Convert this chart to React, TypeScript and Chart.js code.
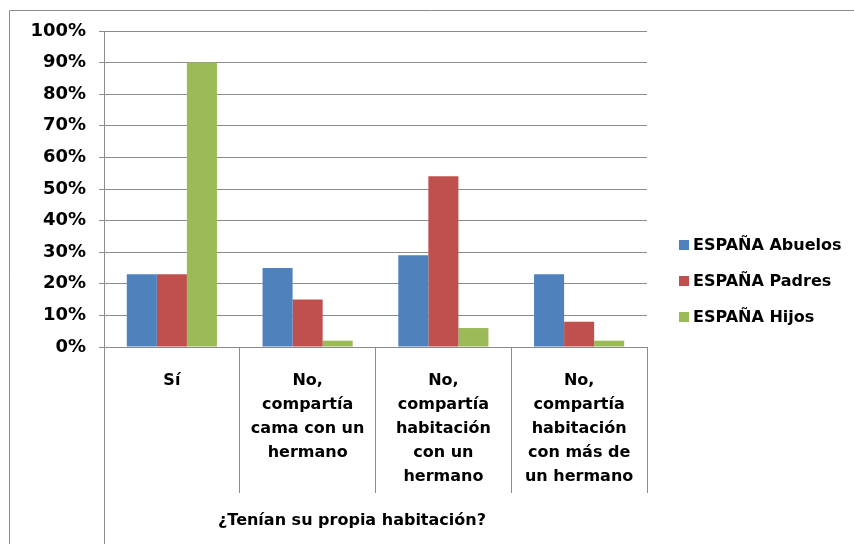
import React, { useEffect, useRef } from "react";
import { Chart, registerables } from "chart.js";

Chart.register(...registerables);

// ---- Data ----
const categories: string[][] = [
  ["Sí"],
  ["No,", "compartía", "cama con un", "hermano"],
  ["No,", "compartía", "habitación", "con un", "hermano"],
  ["No,", "compartía", "habitación", "con más de", "un hermano"],
];
const seriesNames = ["ESPAÑA Abuelos", "ESPAÑA Padres", "ESPAÑA Hijos"];
const abuelos = [23, 25, 29, 23];
const padres = [23, 15, 54, 8];
const hijos = [90, 2, 6, 2];
const yMin = 0;
const yMax = 100;
const yStep = 10;
const axisTitle = "¿Tenían su propia habitación?";

const seriesColors = ["#4F81BD", "#C0504D", "#9BBB59"];
const gridColor = "#8C8C8C";
const frameColor = "#8C8C8C";
const FONT = "'DejaVu Sans', sans-serif";

const align = (p: number) => Math.round(p - 0.5) + 0.5;

const decorPlugin = {
  id: "decor",
  beforeDraw(chart: any) {
    const ctx = chart.ctx;
    ctx.save();
    ctx.fillStyle = "#FFFFFF";
    ctx.fillRect(0, 0, chart.width, chart.height);
    ctx.strokeStyle = frameColor;
    ctx.lineWidth = 1;
    ctx.beginPath();
    ctx.moveTo(9.5, chart.height);
    ctx.lineTo(9.5, 10.5);
    ctx.lineTo(chart.width, 10.5);
    ctx.stroke();
    ctx.restore();
  },
  afterDraw(chart: any) {
    const ctx = chart.ctx;
    const area = chart.chartArea;
    const xs = chart.scales.x;
    ctx.save();
    ctx.strokeStyle = gridColor;
    ctx.lineWidth = 1;
    // y-axis line continues down through the category area
    ctx.beginPath();
    ctx.moveTo(align(area.left), area.bottom);
    ctx.lineTo(align(area.left), chart.height);
    ctx.stroke();
    // category dividers
    const n = categories.length;
    const w = xs.width / n;
    ctx.beginPath();
    for (let i = 1; i <= n; i++) {
      const x = align(xs.left + i * w);
      ctx.moveTo(x, area.bottom);
      ctx.lineTo(x, 493);
    }
    ctx.stroke();
    // axis title
    ctx.fillStyle = "#000";
    ctx.font = `bold 16px ${FONT}`;
    ctx.textAlign = "center";
    ctx.textBaseline = "middle";
    ctx.fillText(axisTitle, 352, 521);
    // legend
    ctx.textAlign = "left";
    chart.data.datasets.forEach((ds: any, i: number) => {
      const cy = 245 + i * 36;
      ctx.fillStyle = ds.backgroundColor;
      ctx.fillRect(679, cy - 5, 10, 10);
      ctx.fillStyle = "#000";
      ctx.fillText(ds.label, 693, cy + 1);
    });
    ctx.restore();
  },
};

export default function App() {
  const ref = useRef<HTMLCanvasElement | null>(null);
  useEffect(() => {
    if (!ref.current) return;
    const chart = new Chart(ref.current, {
      type: "bar",
      data: {
        labels: categories,
        datasets: [
          { label: seriesNames[0], data: abuelos, backgroundColor: seriesColors[0] },
          { label: seriesNames[1], data: padres, backgroundColor: seriesColors[1] },
          { label: seriesNames[2], data: hijos, backgroundColor: seriesColors[2] },
        ],
      },
      options: {
        animation: false,
        responsive: false,
        maintainAspectRatio: false,
        layout: { padding: { left: 0, top: 31, right: 207, bottom: 0 } },
        datasets: { bar: { categoryPercentage: 0.664, barPercentage: 1, borderWidth: 0 } },
        plugins: { legend: { display: false }, tooltip: { enabled: false } },
        scales: {
          x: {
            grid: { display: false },
            border: { display: false },
            ticks: {
              color: "#000",
              font: { family: FONT, size: 16, weight: "bold", lineHeight: 1.5 },
              padding: 14,
              maxRotation: 0,
              minRotation: 0,
              autoSkip: false,
            },
            afterFit: (s: any) => {
              s.height = 197;
            },
          },
          y: {
            min: yMin,
            max: yMax,
            ticks: {
              stepSize: yStep,
              color: "#000",
              font: { family: FONT, size: 18, weight: "bold" },
              padding: 13,
              callback: (v: any) => `${v}%`,
            },
            grid: { color: gridColor, tickColor: gridColor, tickLength: 5, lineWidth: 1 },
            border: { color: gridColor, width: 1 },
            afterFit: (s: any) => {
              s.width = 104;
            },
          },
        },
      },
      plugins: [decorPlugin],
    } as any);
    return () => chart.destroy();
  }, []);
  return (
    <div style={{ position: "fixed", left: 0, top: 0, width: 854, height: 544, background: "#fff" }}>
      <canvas ref={ref} width={854} height={544} style={{ display: "block", width: 854, height: 544 }} />
    </div>
  );
}
